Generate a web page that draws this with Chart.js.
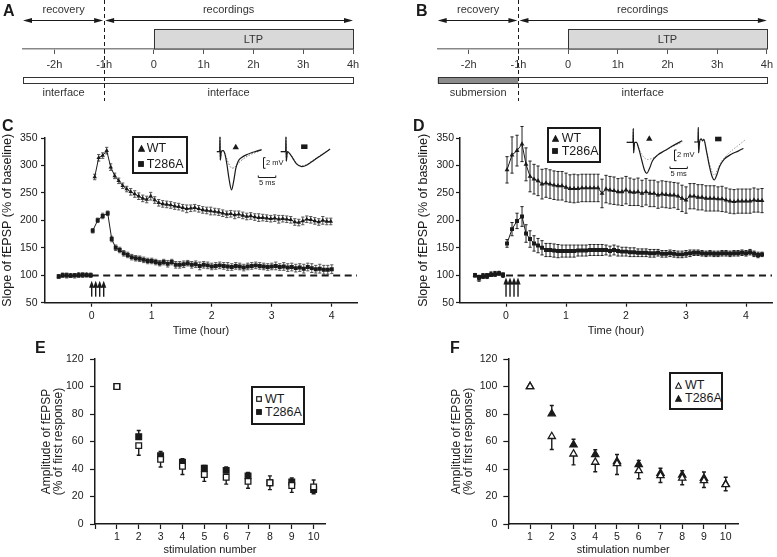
<!DOCTYPE html>
<html>
<head>
<meta charset="utf-8">
<script src="https://cdn.jsdelivr.net/npm/chart.js@4.4.1/dist/chart.umd.min.js"></script>
<style>
  html, body { margin: 0; padding: 0; background: #fff; }
  body { position: relative; width: 777px; height: 557px; overflow: hidden; font-family: "Liberation Sans", Arial, sans-serif; color: #1a1a1a; }
  canvas { position: absolute; }
  .letter { position: absolute; font-weight: bold; font-size: 16px; line-height: 15px; z-index: 3; }
  .lgbox { position: absolute; border: 2px solid #1a1a1a; box-sizing: border-box; background: #fff; z-index: 2; }
  .lgtext { position: absolute; font-size: 12.5px; line-height: 14px; white-space: nowrap; z-index: 3; }
  .lgmark { position: absolute; z-index: 3; line-height: 0; }
  .lgmark svg { display: block; }
</style>
</head>
<body>
<div class="letter" style="left:3px;top:3px">A</div>
<div class="letter" style="left:416px;top:3px">B</div>
<div class="letter" style="left:2px;top:118px">C</div>
<div class="letter" style="left:413px;top:118px">D</div>
<div class="letter" style="left:35px;top:340px">E</div>
<div class="letter" style="left:450px;top:340px">F</div>
<script>
// ---- panels A/B: timeline (hours) ----
const TL_TICKS = [-2, -1, 0, 1, 2, 3, 4]
const TL_SPLIT = -1          // recovery ends / recordings start
const TL_LTP = [0, 4]

// ---- panels C/D: slope of fEPSP, times in minutes from first tetanus ----
const HOUR_TICKS = [0, 1, 2, 3, 4]
const SLOPE_TICKS = [50, 100, 150, 200, 250, 300, 350]
const TETANUS_MIN = [0, 4, 8, 12]
const BASELINE_PCT = 100

const C_BASE_MIN = [-33, -29, -25, -21, -17, -13, -9, -5, -1]
const C_WT_BASE = [97, 100, 99, 100, 99, 101, 100, 101, 100]
const C_WT_BASE_ERR = [3, 4, 4, 3, 4, 3, 4, 3, 4]
const C_T286A_BASE = [98, 100, 100, 99, 100, 100, 101, 100, 100]
const C_T286A_BASE_ERR = [3, 3, 4, 3, 3, 4, 3, 3, 3]

const C_WT_MIN = [3, 7, 11, 15, 19, 23, 27, 31, 35, 39, 43, 47, 51, 55, 59, 63, 67, 71, 75, 79,
  83, 87, 91, 95, 99, 103, 107, 111, 115, 119, 123, 127, 131, 135, 139, 143, 147, 151, 155, 159,
  163, 167, 171, 175, 179, 183, 187, 191, 195, 199, 203, 207, 211, 215, 219, 223, 227, 231, 235, 239]
const C_WT = [279, 314, 318, 327, 297, 281, 272, 263, 257, 252,
  248, 244, 240, 238, 244, 237, 232, 230, 229, 228,
  226, 225, 223, 221, 222, 223, 221, 219, 218, 217,
  216, 215, 213, 211, 212, 210, 211, 209, 207, 208,
  206, 205, 205, 204, 203, 204, 202, 203, 202, 201,
  197, 196, 199, 202, 201, 199, 197, 200, 198, 198]
const C_WT_ERR = [5, 6, 5, 6, 6, 5, 5, 5, 5, 6,
  6, 6, 6, 6, 7, 6, 6, 6, 6, 6,
  6, 6, 6, 7, 6, 6, 6, 6, 6, 7,
  6, 6, 6, 6, 6, 7, 6, 6, 6, 6,
  6, 7, 6, 6, 6, 6, 7, 6, 6, 6,
  6, 6, 7, 6, 6, 6, 6, 7, 6, 6]

const C_T286A_MIN = [1, 6, 11, 16, 20, 24, 28, 32, 36, 40, 44, 48, 52, 56, 60, 64, 68, 72, 76, 80,
  84, 88, 92, 96, 100, 104, 108, 112, 116, 120, 124, 128, 132, 136, 140, 144, 148, 152, 156, 160,
  164, 168, 172, 176, 180, 184, 188, 192, 196, 200, 204, 208, 212, 216, 220, 224, 228, 232, 236, 240]
const C_T286A = [181, 200, 208, 213, 166, 150, 146, 140, 137, 133,
  131, 130, 128, 126, 126, 124, 122, 124, 121, 124,
  119, 119, 120, 122, 119, 120, 117, 119, 118, 116,
  117, 118, 117, 116, 115, 117, 116, 114, 116, 117,
  118, 117, 116, 115, 116, 117, 115, 116, 114, 115,
  113, 114, 112, 115, 113, 111, 112, 110, 110, 111]
const C_T286A_ERR = [4, 4, 5, 4, 5, 5, 5, 5, 5, 5,
  5, 5, 5, 5, 5, 5, 5, 5, 6, 5,
  6, 6, 6, 5, 6, 6, 7, 6, 6, 6,
  6, 6, 6, 7, 6, 6, 6, 6, 6, 6,
  6, 6, 6, 6, 6, 7, 6, 7, 7, 7,
  7, 7, 8, 7, 8, 7, 8, 8, 8, 8]

const D_BASE_MIN = [-31, -27, -23, -19, -15, -11, -7, -3]
const D_WT_BASE = [100, 93, 99, 97, 102, 103, 104, 100]
const D_WT_BASE_ERR = [3, 4, 4, 3, 4, 4, 3, 4]
const D_T286A_BASE = [100, 97, 98, 100, 101, 102, 103, 101]
const D_T286A_BASE_ERR = [3, 3, 4, 3, 3, 4, 3, 3]

const D_POST_MIN = [1, 6, 11, 16, 20, 24, 28, 32, 36, 40, 44, 48, 52, 56, 60, 64, 68, 72, 76, 80,
  84, 88, 92, 96, 100, 104, 108, 112, 116, 120, 124, 128, 132, 136, 140, 144, 148, 152, 156, 160,
  164, 168, 172, 176, 180, 184, 188, 192, 196, 200, 204, 208, 212, 216, 220, 224, 228, 232, 236, 240,
  244, 248, 252, 256]
const D_WT = [292, 319, 327, 339, 302, 280, 275, 272, 266, 268,
  266, 264, 263, 263, 260, 258, 258, 258, 259, 259,
  259, 259, 259, 249, 257, 255, 254, 252, 252, 255,
  252, 251, 252, 249, 252, 249, 249, 246, 248, 247,
  246, 246, 244, 240, 237, 244, 244, 242, 242, 240,
  240, 240, 239, 239, 237, 235, 234, 235, 235, 235,
  235, 237, 236, 236]
const D_WT_ERR = [24, 33, 28, 32, 30, 28, 27, 27, 27, 26,
  26, 26, 26, 26, 26, 25, 26, 25, 25, 25,
  25, 25, 25, 26, 25, 25, 25, 24, 25, 25,
  25, 24, 25, 24, 24, 24, 24, 24, 24, 24,
  24, 23, 24, 24, 24, 23, 23, 23, 23, 23,
  23, 23, 22, 23, 22, 22, 22, 22, 22, 22,
  22, 22, 21, 22]
const D_T286A = [158, 184, 199, 207, 176, 166, 158, 154, 150, 146,
  146, 145, 144, 144, 144, 144, 144, 145, 145, 145,
  146, 146, 146, 146, 146, 144, 146, 144, 143, 143,
  142, 142, 141, 141, 141, 140, 140, 141, 139, 139,
  140, 139, 138, 138, 139, 140, 141, 141, 140, 139,
  140, 139, 139, 140, 140, 139, 140, 140, 141, 140,
  142, 139, 137, 138]
const D_T286A_ERR = [7, 12, 14, 18, 16, 15, 14, 13, 13, 12,
  12, 12, 12, 11, 11, 11, 11, 10, 10, 10,
  10, 10, 10, 10, 9, 9, 9, 9, 8, 8,
  8, 8, 7, 7, 7, 7, 7, 6, 6, 6,
  6, 6, 6, 6, 6, 6, 5, 5, 5, 5,
  5, 5, 5, 5, 5, 5, 5, 5, 5, 5,
  5, 5, 5, 4]

// ---- example traces (ms, mV); dotted = before, solid = after LTP ----
const C_WT_TRACE_AFTER = [[-0.9, 0], [-0.1, 0], [0, 2.8], [0.08, -1.6], [0.4, 0.1], [0.9, 0.2], [1.4, -0.4], [2.0, -2.5],
  [2.6, -5.2], [3.3, -7.2], [3.9, -5.6], [4.5, -3.2], [5.2, -1.8], [6.2, -1.1], [7.5, -0.6], [9, -0.2], [10.5, 0.1], [11.9, 0.4]]
const C_WT_TRACE_BEFORE = [[-0.9, 0], [-0.1, 0], [0, 2.8], [0.08, -1.6], [0.4, 0.1], [0.9, 0.2], [1.4, -0.4], [2.2, -1.8],
  [3.0, -2.9], [3.6, -3.1], [4.4, -2.8], [5.5, -2.0], [7, -1.2], [8.5, -0.6], [10, -0.2], [11.9, 0.3]]
const C_T286A_TRACE_AFTER = [[-1.5, 0], [-0.1, 0], [0, 2.8], [0.08, -1.8], [0.4, 0], [1.0, -0.3], [2.0, -1.3], [3.0, -2.3],
  [4.5, -2.8], [6.0, -2.5], [8, -1.6], [10, -0.7], [12.6, 0.5]]
const C_T286A_TRACE_BEFORE = [[-1.5, 0], [-0.1, 0], [0, 2.8], [0.08, -1.8], [0.4, 0], [1.0, -0.3], [2.0, -1.2], [3.0, -2.2],
  [4.5, -2.7], [6.0, -2.4], [8, -1.5], [10, -0.6], [12.6, 0.4]]
const D_WT_TRACE_AFTER = [[-1.9, 0], [-0.1, 0], [0, 2.6], [0.08, -2.0], [0.4, 0], [0.9, 0], [1.5, -1.0], [2.5, -3.5],
  [3.3, -5.3], [3.9, -5.8], [4.6, -5.0], [5.5, -3.5], [7, -2.4], [9, -1.6], [11, -0.8], [14.1, 0.3]]
const D_WT_TRACE_BEFORE = [[-1.9, 0], [-0.1, 0], [0, 2.6], [0.08, -2.0], [0.4, 0], [0.9, 0], [1.5, -1.0], [2.5, -2.3],
  [4, -3.2], [5.5, -3.0], [7, -2.4], [9, -1.6], [11, -0.9], [14.1, 0]]
const D_T286A_TRACE_AFTER = [[-1.15, 0], [-0.1, 0], [0, 2.75], [0.08, -2.05], [0.4, 0.1], [0.8, 0.6], [1.3, 0.2], [1.6, 0.5],
  [2.3, -1.5], [3.2, -4.5], [4.0, -6.5], [4.6, -7.1], [5.3, -6.2], [6.2, -4.5], [7.5, -3.2], [9.5, -2.3], [11.5, -1.7], [13, -1.2]]
const D_T286A_TRACE_BEFORE = [[-1.15, 0], [-0.1, 0], [0, 2.75], [0.08, -2.05], [0.4, 0.1], [0.8, 0.6], [1.3, 0.2], [1.6, 0.5],
  [2.3, -1.5], [3.2, -4], [4.6, -6.2], [5.5, -5.2], [6.5, -3.8], [8, -2.6], [10, -1.4], [12, -0.4], [13.5, 0.4]]
const SCALE_MV = 2, SCALE_MS = 5

// ---- panels E/F: paired amplitudes (% of first response) ----
const STIM = [1, 2, 3, 4, 5, 6, 7, 8, 9, 10]
const AMP_TICKS = [0, 20, 40, 60, 80, 100, 120]
const E_WT = [100, 57, 47, 42, 36, 34, 31, 30, 28, 27]
const E_WT_ERR = [0, 7, 5.5, 6, 5, 5, 5, 5, 5, 5]
const E_T286A = [100, 63.5, 49.7, 45, 40.5, 39, 35, 30, 30.5, 25]
const E_T286A_ERR = [0, 4.5, 3, 2.5, 2, 2.5, 2.5, 5, 3, 7]
const F_WT = [100, 63.7, 51, 45, 44, 38.9, 35.2, 33.5, 31.6, 28.7]
const F_WT_ERR = [0, 9.5, 8, 7, 8, 6, 5, 5, 5, 4.5]
const F_T286A = [100, 80.2, 57.6, 50.5, 45.5, 43.3, 37, 35.7, 33.3, 29]
const F_T286A_ERR = [0, 6, 4, 3.5, 5, 3, 3.5, 3, 4.5, 5]

const INK = '#1a1a1a'
const FONT = '"Liberation Sans", Arial, sans-serif'
Chart.defaults.font.family = FONT
Chart.defaults.color = INK

function addCanvas(left, top, w, h) {
  const c = document.createElement('canvas')
  c.width = w; c.height = h
  c.style.left = left + 'px'; c.style.top = top + 'px'
  c.style.width = w + 'px'; c.style.height = h + 'px'
  document.body.appendChild(c)
  return c
}

// Vertical error bars; dataset.errorDir = 'up' | 'down' | undefined (both)
const errorBars = {
  id: 'errorBars',
  beforeDatasetsDraw(chart) {
    const { ctx } = chart
    const ys = chart.scales.y
    chart.data.datasets.forEach((ds, di) => {
      if (!ds.errors) return
      const meta = chart.getDatasetMeta(di)
      ctx.save()
      ctx.strokeStyle = ds.errorColor || INK
      ctx.lineWidth = ds.errorWidth || 1
      ctx.beginPath()
      meta.data.forEach((pt, i) => {
        const raw = ds.data[i], e = ds.errors[i]
        if (!raw || raw.y == null || !e) return
        const up = ds.errorDir !== 'down', down = ds.errorDir !== 'up'
        const yt = ys.getPixelForValue(raw.y + (up ? e : 0))
        const yb = ys.getPixelForValue(raw.y - (down ? e : 0))
        const cw = ds.capWidth || 2
        ctx.moveTo(pt.x, yt); ctx.lineTo(pt.x, yb)
        if (up) { ctx.moveTo(pt.x - cw, yt); ctx.lineTo(pt.x + cw, yt) }
        if (down) { ctx.moveTo(pt.x - cw, yb); ctx.lineTo(pt.x + cw, yb) }
      })
      ctx.stroke()
      ctx.restore()
    })
  }
}

// Dashed 100 % line from time 0 to the end of the axis
const refLine = {
  id: 'refLine',
  beforeDatasetsDraw(chart, _a, o) {
    const { ctx } = chart
    const x = chart.scales.x, y = chart.scales.y
    const py = Math.round(y.getPixelForValue(o.y)) + 0.5
    ctx.save()
    ctx.strokeStyle = INK; ctx.lineWidth = 1.8; ctx.setLineDash([7, 4.5])
    ctx.beginPath(); ctx.moveTo(x.getPixelForValue(0), py); ctx.lineTo(x.right, py); ctx.stroke()
    ctx.restore()
  }
}

// Upward arrows marking the four tetani
const tetanus = {
  id: 'tetanus',
  afterDatasetsDraw(chart, _a, o) {
    const { ctx } = chart
    const x = chart.scales.x, y = chart.scales.y
    const yb = y.getPixelForValue(o.from), yt = y.getPixelForValue(o.to)
    ctx.save()
    ctx.fillStyle = INK; ctx.strokeStyle = INK; ctx.lineWidth = 1.4
    o.times.forEach(m => {
      const px = x.getPixelForValue(m / 60)
      ctx.beginPath(); ctx.moveTo(px, yb); ctx.lineTo(px, yt + 6); ctx.stroke()
      ctx.beginPath(); ctx.moveTo(px, yt); ctx.lineTo(px - 2.6, yt + 7); ctx.lineTo(px + 2.6, yt + 7); ctx.closePath(); ctx.fill()
    })
    ctx.restore()
  }
}

function hArrowHead(ctx, x, y, dir) {
  ctx.beginPath(); ctx.moveTo(x, y); ctx.lineTo(x - dir * 9, y - 2.6); ctx.lineTo(x - dir * 9, y + 2.6); ctx.closePath(); ctx.fill()
}

// Protocol diagram drawn on the hour axis
const timeline = {
  id: 'timeline',
  afterDraw(chart, _a, o) {
    const { ctx } = chart
    const x = chart.scales.x
    const ay = chart.chartArea.bottom
    const xl = x.left, xr = x.right, xs = x.getPixelForValue(TL_SPLIT)
    const x0 = x.getPixelForValue(TL_LTP[0]), x1 = x.getPixelForValue(TL_LTP[1])
    ctx.save()
    ctx.font = '11px ' + FONT; ctx.textAlign = 'center'; ctx.textBaseline = 'middle'
    // LTP box
    ctx.fillStyle = '#d9d9d9'; ctx.fillRect(x0, ay - 20, x1 - x0, 20)
    ctx.strokeStyle = '#333'; ctx.lineWidth = 1
    ctx.strokeRect(Math.round(x0) + 0.5, ay - 19.5, Math.round(x1 - x0), 19.5)
    ctx.fillStyle = '#333'; ctx.fillText('LTP', (x0 + x1) / 2, ay - 9.5)
    // arrows
    ctx.fillStyle = INK; ctx.strokeStyle = INK; ctx.lineWidth = 1.2
    const ar = ay - 28.5
    ctx.beginPath(); ctx.moveTo(xl + 2, ar); ctx.lineTo(xs - 3, ar); ctx.moveTo(xs + 3, ar); ctx.lineTo(xr - 2, ar); ctx.stroke()
    hArrowHead(ctx, xl, ar, -1); hArrowHead(ctx, xs - 1, ar, 1)
    hArrowHead(ctx, xs + 1, ar, -1); hArrowHead(ctx, xr, ar, 1)
    ctx.fillStyle = '#333'
    ctx.fillText('recovery', (xl + xs) / 2, ay - 39)
    ctx.fillText('recordings', (xs + xr) / 2, ay - 39)
    // chamber bar
    const by = ay + 28.5
    ctx.fillStyle = o.lowerLeft === 'submersion' ? '#8c8c8c' : '#fff'
    ctx.fillRect(xl, by, xs - xl, 6)
    ctx.fillStyle = '#fff'; ctx.fillRect(xs, by, xr - xs, 6)
    ctx.strokeStyle = '#333'; ctx.lineWidth = 1
    ctx.strokeRect(Math.round(xl) + 0.5, by, Math.round(xr - xl), 6)
    ctx.fillStyle = '#333'
    ctx.fillText(o.lowerLeft, (xl + xs) / 2, ay + 44)
    ctx.fillText('interface', (xs + xr) / 2, ay + 44)
    // split line
    ctx.strokeStyle = INK; ctx.lineWidth = 1; ctx.setLineDash([4, 3])
    ctx.beginPath(); ctx.moveTo(Math.round(xs) + 0.5, ay - 49); ctx.lineTo(Math.round(xs) + 0.5, ay + 52); ctx.stroke()
    ctx.restore()
  }
}

function timelineChart(left, w, padL, padR, xMin, lowerLeft) {
  const cv = addCanvas(left, 0, w, 110)
  return new Chart(cv, {
    type: 'scatter',
    data: { datasets: [] },
    options: {
      responsive: false, animation: false, events: [],
      layout: { padding: { left: padL, right: padR, top: 0, bottom: 0 } },
      plugins: { legend: { display: false }, tooltip: { enabled: false }, timeline: { lowerLeft } },
      scales: {
        x: {
          type: 'linear', min: xMin, max: 4,
          afterBuildTicks: s => { s.ticks = TL_TICKS.map(v => ({ value: v })) },
          afterFit: s => { s.height = 61 },
          ticks: { callback: v => (v === 0 ? '0' : v + 'h'), font: { size: 11 }, color: '#333', padding: 4, maxRotation: 0, autoSkip: false },
          grid: { drawOnChartArea: false, tickLength: 5, color: '#555' },
          border: { color: '#888', width: 1.5 }
        },
        y: { display: false, min: 0, max: 1 }
      }
    },
    plugins: [timeline]
  })
}

function joinSeries(baseMin, baseVals, baseErr, postMin, postVals, postErr) {
  const data = baseMin.map((m, i) => ({ x: m / 60, y: baseVals[i] }))
  data.push({ x: 0, y: null })
  postMin.forEach((m, i) => data.push({ x: m / 60, y: postVals[i] }))
  return { data, errors: [...baseErr, null, ...postErr] }
}

function axisCommon(tickPad, tickLen) {
  return {
    grid: { drawOnChartArea: false, tickLength: tickLen, color: INK, tickWidth: 1.2 },
    border: { color: INK, width: 1.5 },
    ticks: { font: { size: 10.5 }, color: INK, padding: tickPad, maxRotation: 0, autoSkip: false }
  }
}

function timeChart(box, wt, mut, cfg) {
  const cv = addCanvas(box.left, box.top, box.w, box.h)
  const line = { showLine: true, borderColor: INK, borderWidth: 1, pointBackgroundColor: INK, pointBorderColor: INK,
    pointBorderWidth: 0, errorColor: cfg.errColor, capWidth: 1.6 }
  const xa = axisCommon(3, 4), ya = axisCommon(cfg.yPad, 4)
  return new Chart(cv, {
    type: 'scatter',
    data: { datasets: [
      { ...line, label: 'WT', data: wt.data, errors: wt.errors, pointStyle: 'triangle', pointRadius: cfg.triR },
      { ...line, label: 'T286A', data: mut.data, errors: mut.errors, pointStyle: 'rect', pointRadius: cfg.rectR }
    ] },
    options: {
      responsive: false, animation: false, events: [],
      layout: { padding: { left: 0, right: box.padR, top: box.padT, bottom: 0 } },
      plugins: {
        legend: { display: false }, tooltip: { enabled: false },
        refLine: { y: BASELINE_PCT },
        tetanus: { times: TETANUS_MIN, from: 61, to: cfg.arrowTop }
      },
      scales: {
        x: { ...xa, type: 'linear', min: cfg.xMin, max: cfg.xMax,
          afterBuildTicks: s => { s.ticks = HOUR_TICKS.map(v => ({ value: v })) },
          afterFit: s => { s.height = box.xH },
          title: { display: true, text: 'Time (hour)', font: { size: 11 }, color: INK, padding: { top: 0, bottom: 2.7 } } },
        y: { ...ya, min: 50, max: 350,
          afterBuildTicks: s => { s.ticks = SLOPE_TICKS.map(v => ({ value: v })) },
          afterFit: s => { s.width = box.yW },
          title: { display: true, text: 'Slope of fEPSP (% of baseline)', font: { size: 12.5, lineHeight: 1.2 }, color: INK,
            padding: { top: box.yTitlePad, bottom: 0 } } }
      }
    },
    plugins: [errorBars, refLine, tetanus]
  })
}

function stimChart(box, wtVals, wtErr, mutVals, mutErr, shape, r) {
  const cv = addCanvas(box.left, box.top, box.w, box.h)
  const xa = axisCommon(2, 5), ya = axisCommon(box.yPad, 5)
  const pts = vals => STIM.map((s, i) => ({ x: s, y: vals[i] }))
  const common = { showLine: false, pointStyle: shape, pointRadius: r, pointBorderColor: INK, pointBorderWidth: 1.3,
    errorColor: INK, errorWidth: 1.4, capWidth: 2 }
  return new Chart(cv, {
    type: 'scatter',
    data: { datasets: [
      { ...common, label: 'WT', data: pts(wtVals), errors: wtErr, errorDir: 'down', pointBackgroundColor: '#fff' },
      { ...common, label: 'T286A', data: pts(mutVals), errors: mutErr, errorDir: 'up', pointBackgroundColor: INK }
    ] },
    options: {
      responsive: false, animation: false, events: [],
      layout: { padding: { left: 0, right: box.padR, top: box.padT, bottom: 0 } },
      plugins: { legend: { display: false }, tooltip: { enabled: false } },
      scales: {
        x: { ...xa, type: 'linear', min: 0, max: box.xMax,
          afterBuildTicks: s => { s.ticks = [0, ...STIM].map(v => ({ value: v })) },
          afterFit: s => { s.height = box.xH },
          ticks: { ...xa.ticks, callback: v => (v === 0 ? '' : String(v)) },
          title: { display: true, text: 'stimulation number', font: { size: 11 }, color: INK, padding: { top: 0, bottom: 0 } } },
        y: { ...ya, min: 0, max: 120,
          afterBuildTicks: s => { s.ticks = AMP_TICKS.map(v => ({ value: v })) },
          afterFit: s => { s.width = box.yW },
          title: { display: true, text: ['Amplitude of fEPSP', '(% of first response)'], font: { size: 12, lineHeight: 1.0 }, color: INK,
            padding: { top: box.yTitlePad, bottom: 0 } } }
      }
    },
    plugins: [errorBars]
  })
}

// Group symbol and calibration bars on the example traces
const traceDeco = {
  id: 'traceDeco',
  afterDatasetsDraw(chart, _a, o) {
    const { ctx } = chart
    const x = chart.scales.x, y = chart.scales.y
    ctx.save()
    ctx.fillStyle = INK
    const mx = x.getPixelForValue(o.mark[0]), my = y.getPixelForValue(o.mark[1])
    if (o.shape === 'triangle') {
      ctx.beginPath(); ctx.moveTo(mx, my - 3); ctx.lineTo(mx + 3.2, my + 2.5); ctx.lineTo(mx - 3.2, my + 2.5); ctx.closePath(); ctx.fill()
    } else {
      ctx.fillRect(mx - 3.2, my - 2.3, 6.4, 4.6)
    }
    if (o.bar) {
      const vx = Math.round(x.getPixelForValue(o.bar.vx)) + 0.5
      const vt = y.getPixelForValue(o.bar.vTop), vb = y.getPixelForValue(o.bar.vTop - SCALE_MV)
      const hy = Math.round(y.getPixelForValue(o.bar.hy)) + 0.5
      const h0 = x.getPixelForValue(o.bar.hx), h1 = x.getPixelForValue(o.bar.hx + SCALE_MS)
      ctx.strokeStyle = INK; ctx.lineWidth = 1
      ctx.beginPath()
      ctx.moveTo(vx + 2, vt); ctx.lineTo(vx, vt); ctx.lineTo(vx, vb); ctx.lineTo(vx + 2, vb)
      ctx.moveTo(h0, hy - 2); ctx.lineTo(h0, hy); ctx.lineTo(h1, hy); ctx.lineTo(h1, hy - 2)
      ctx.stroke()
      ctx.font = '7.5px ' + FONT; ctx.textBaseline = 'middle'
      ctx.textAlign = 'left'; ctx.fillText(SCALE_MV + ' mV', vx + 2.5, (vt + vb) / 2)
      ctx.textAlign = 'center'; ctx.fillText(SCALE_MS + ' ms', (h0 + h1) / 2, hy + 5.5)
    }
    ctx.restore()
  }
}

function traceChart(box, after, before, deco, dotColor) {
  const cv = addCanvas(box.left, box.top, box.w, box.h)
  const xy = arr => arr.map(([x, y]) => ({ x, y }))
  return new Chart(cv, {
    type: 'scatter',
    data: { datasets: [
      { data: xy(after), showLine: true, borderColor: INK, borderWidth: 1.2, pointRadius: 0, cubicInterpolationMode: 'monotone' },
      { data: xy(before), showLine: true, borderColor: dotColor, borderWidth: 1, borderDash: [1.5, 1.5], pointRadius: 0, cubicInterpolationMode: 'monotone' }
    ] },
    options: {
      responsive: false, animation: false, events: [],
      layout: { padding: 0 },
      plugins: { legend: { display: false }, tooltip: { enabled: false }, traceDeco: deco },
      scales: {
        x: { display: false, type: 'linear', min: box.xMin, max: box.xMax },
        y: { display: false, min: box.yMin, max: box.yMax }
      }
    },
    plugins: [traceDeco]
  })
}

function markerSvg(shape, filled, size) {
  const s = size, f = filled ? INK : '#fff'
  const body = shape === 'triangle'
    ? `<polygon points="${s / 2},0.8 ${s - 0.6},${s - 0.8} 0.6,${s - 0.8}" fill="${f}" stroke="${INK}" stroke-width="1.1"/>`
    : `<rect x="0.7" y="0.7" width="${s - 1.4}" height="${s - 1.4}" fill="${f}" stroke="${INK}" stroke-width="1.2"/>`
  return `<svg width="${s}" height="${s}" viewBox="0 0 ${s} ${s}">${body}</svg>`
}

function legend(box, rows) {
  const b = document.createElement('div')
  b.className = 'lgbox'
  Object.assign(b.style, { left: box.x + 'px', top: box.y + 'px', width: box.w + 'px', height: box.h + 'px' })
  document.body.appendChild(b)
  rows.forEach(r => {
    const m = document.createElement('div')
    m.className = 'lgmark'
    m.innerHTML = markerSvg(r.shape, r.filled, r.size)
    Object.assign(m.style, { left: (r.mx - r.size / 2) + 'px', top: (r.cy - r.size / 2) + 'px', width: r.size + 'px', height: r.size + 'px' })
    document.body.appendChild(m)
    const t = document.createElement('div')
    t.className = 'lgtext'
    t.textContent = r.label
    Object.assign(t.style, { left: r.tx + 'px', top: (r.cy - 7) + 'px' })
    document.body.appendChild(t)
  })
}

// ---- A / B ----
timelineChart(0, 370, 23, 17, -2.63, 'interface')
timelineChart(390, 387, 47.7, 9.7, -2.625, 'submersion')

// ---- C / D ----
timeChart({ left: 0, top: 118, w: 372, h: 222, padR: 15, padT: 20, xH: 37.3, yW: 45, yTitlePad: 0 },
  joinSeries(C_BASE_MIN, C_WT_BASE, C_WT_BASE_ERR, C_WT_MIN, C_WT, C_WT_ERR),
  joinSeries(C_BASE_MIN, C_T286A_BASE, C_T286A_BASE_ERR, C_T286A_MIN, C_T286A, C_T286A_ERR),
  { xMin: -0.778, xMax: 4.42, triR: 2.6, rectR: 2.8, errColor: '#555', arrowTop: 90, yPad: 3.5 })
timeChart({ left: 390, top: 118, w: 387, h: 222, padR: 5, padT: 20, xH: 37.3, yW: 70, yTitlePad: 26 },
  joinSeries(D_BASE_MIN, D_WT_BASE, D_WT_BASE_ERR, D_POST_MIN, D_WT, D_WT_ERR),
  joinSeries(D_BASE_MIN, D_T286A_BASE, D_T286A_BASE_ERR, D_POST_MIN, D_T286A, D_T286A_ERR),
  { xMin: -0.767, xMax: 4.433, triR: 2.8, rectR: 2.8, errColor: '#222', arrowTop: 96, yPad: 2 })

// example traces
traceChart({ left: 210, top: 130, w: 80, h: 65, xMin: -2.857, xMax: 20, yMin: -8.17, yMax: 4.09 },
  C_WT_TRACE_AFTER, C_WT_TRACE_BEFORE,
  { shape: 'triangle', mark: [4.5, 0.94], bar: { vx: 12.2, vTop: -1.13, hx: 10.94, hy: -4.83 } }, '#666')
traceChart({ left: 276, top: 130, w: 62, h: 65, xMin: -2.857, xMax: 14.86, yMin: -8.17, yMax: 4.09 },
  C_T286A_TRACE_AFTER, C_T286A_TRACE_BEFORE, { shape: 'rect', mark: [5.23, 0.94] }, '#666')
traceChart({ left: 620, top: 122, w: 78, h: 62, xMin: -3.83, xMax: 18.65, yMin: -7.79, yMax: 3.79 },
  D_WT_TRACE_AFTER, D_WT_TRACE_BEFORE,
  { shape: 'triangle', mark: [4.61, 0.75], bar: { vx: 11.73, vTop: -1.44, hx: 10.58, hy: -4.75 } }, '#999')
traceChart({ left: 690, top: 122, w: 64, h: 62, xMin: -2.39, xMax: 16.05, yMin: -7.85, yMax: 3.74 },
  D_T286A_TRACE_AFTER, D_T286A_TRACE_BEFORE, { shape: 'rect', mark: [5.76, 0.56] }, '#999')

// ---- E / F ----
stimChart({ left: 0, top: 340, w: 390, h: 217, padR: 65, padT: 19, xH: 33, yW: 95, yTitlePad: 40.7, yPad: 6.5, xMax: 10.52 },
  E_WT, E_WT_ERR, E_T286A, E_T286A_ERR, 'rect', 4)
stimChart({ left: 390, top: 340, w: 387, h: 217, padR: 38.7, padT: 19, xH: 33, yW: 118.3, yTitlePad: 60.7, yPad: 6, xMax: 10.58 },
  F_WT, F_WT_ERR, F_T286A, F_T286A_ERR, 'triangle', 4.2)

// ---- legends ----
legend({ x: 131.7, y: 135.7, w: 56.6, h: 38.6 }, [
  { shape: 'triangle', filled: true, size: 7, mx: 141, cy: 148.3, tx: 146.7, label: 'WT' },
  { shape: 'rect', filled: true, size: 6, mx: 141, cy: 163.5, tx: 146.7, label: 'T286A' }])
legend({ x: 546.7, y: 126.7, w: 54.3, h: 36.6 }, [
  { shape: 'triangle', filled: true, size: 7, mx: 555, cy: 138.3, tx: 561.7, label: 'WT' },
  { shape: 'rect', filled: true, size: 6, mx: 555, cy: 150.5, tx: 561.7, label: 'T286A' }])
legend({ x: 250.7, y: 386, w: 54.3, h: 39 }, [
  { shape: 'rect', filled: false, size: 6, mx: 259.3, cy: 399, tx: 265, label: 'WT' },
  { shape: 'rect', filled: true, size: 6, mx: 259.3, cy: 411.7, tx: 265, label: 'T286A' }])
legend({ x: 669.3, y: 371.7, w: 54, h: 38.3 }, [
  { shape: 'triangle', filled: false, size: 7, mx: 678.3, cy: 385, tx: 685, label: 'WT' },
  { shape: 'triangle', filled: true, size: 7, mx: 678.3, cy: 398.3, tx: 685, label: 'T286A' }])
</script>
</body>
</html>
